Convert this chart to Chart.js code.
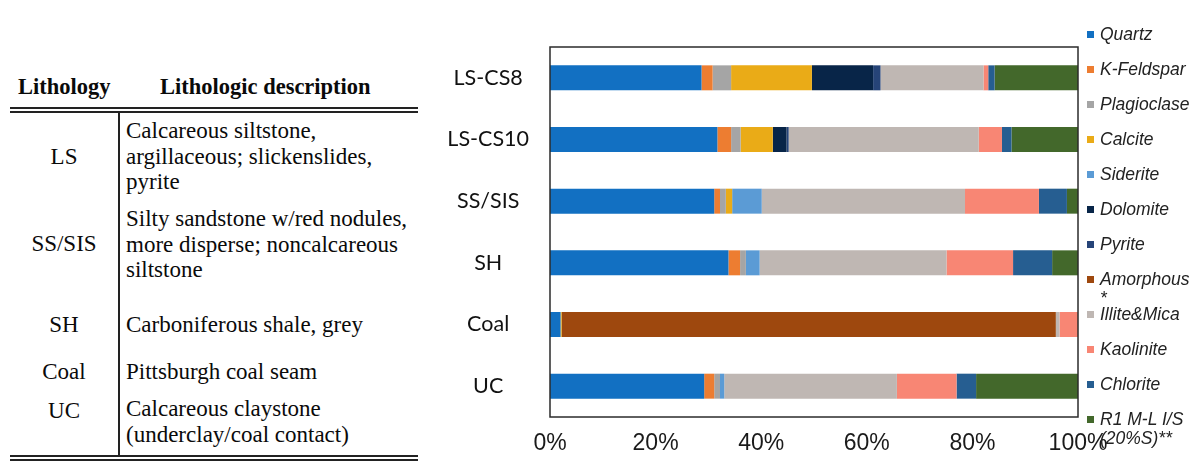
<!DOCTYPE html>
<html>
<head>
<meta charset="utf-8">
<script src="https://cdn.jsdelivr.net/npm/chart.js@4"></script>
<style>
  html, body { margin: 0; padding: 0; background: #fff; }
  body { width: 1195px; height: 462px; position: relative; overflow: hidden; }
  .tab { position: absolute; font-family: "Liberation Serif", "Times New Roman", serif; font-size: 23px; color: #0a0a0a; white-space: nowrap; line-height: 26px; }
  .tab.head { font-weight: bold; font-size: 22.5px; }
  .rule { position: absolute; background: #222; }
  #chartBox { position: absolute; left: 420px; top: 0; width: 775px; height: 462px; }
  .leg { position: absolute; left: 1086px; font-family: "Liberation Sans", Arial, sans-serif; font-style: italic; font-size: 17.5px; color: #222; line-height: 19px; white-space: pre; }
  .leg i { position: absolute; left: 1px; top: 6px; width: 7px; height: 7px; }
  .leg span { position: absolute; left: 14px; top: 0; }
</style>
</head>
<body>

<div id="table"></div>
<div id="chartBox"><canvas id="mineralogia"></canvas></div>
<div id="legenda"></div>

<script>
// Amostras (eixo y)
const amostras = ["LS-CS8", "LS-CS10", "SS/SIS", "SH", "Coal", "UC"];

// Minerais (% em peso), na ordem das amostras
const quartz      = [28.7, 31.7, 31.1, 33.8, 2.0, 29.2];
const kFeldspar   = [2.1, 2.6, 1.1, 2.2, 0, 1.9];
const plagioclase = [3.5, 1.8, 1.1, 1.1, 0, 1.1];
const calcite     = [15.3, 6.1, 1.2, 0, 0.2, 0];
const siderite    = [0, 0, 5.6, 2.6, 0, 0.8];
const dolomite    = [11.6, 2.6, 0, 0, 0, 0];
const pyrite      = [1.4, 0.4, 0, 0, 0, 0];
const amorphous   = [0, 0, 0, 0, 93.6, 0];
const illiteMica  = [19.5, 36.0, 38.5, 35.4, 0.7, 32.7];
const kaolinite   = [0.9, 4.4, 14.0, 12.6, 3.5, 11.3];
const chlorite    = [1.2, 1.8, 5.3, 7.4, 0, 3.7];
const r1MLIS      = [15.8, 12.6, 2.1, 4.9, 0, 19.3];

const nomesMinerais = ["Quartz", "K-Feldspar", "Plagioclase", "Calcite", "Siderite", "Dolomite",
                       "Pyrite", "Amorphous\n*", "Illite&Mica", "Kaolinite", "Chlorite", "R1 M-L I/S\n(20%S)**"];
const valoresMinerais = [quartz, kFeldspar, plagioclase, calcite, siderite, dolomite,
                         pyrite, amorphous, illiteMica, kaolinite, chlorite, r1MLIS];
const cores = ["#1270c2", "#ed7d31", "#a5a5a5", "#eaab17", "#5b9bd5", "#082548",
               "#264478", "#9e480e", "#bfb7b3", "#f88674", "#265e91", "#43682b"];

const ticksX = [0, 20, 40, 60, 80, 100];

// Tabela de litologias
const litologias = ["LS", "SS/SIS", "SH", "Coal", "UC"];
const descricoes = [
    ["Calcareous siltstone,", "argillaceous; slickenslides,", "pyrite"],
    ["Silty sandstone w/red nodules,", "more disperse; noncalcareous", "siltstone"],
    ["Carboniferous shale, grey"],
    ["Pittsburgh coal seam"],
    ["Calcareous claystone", "(underclay/coal contact)"]
];
// linha (y do centro) de cada bloco de texto e do código
const yDescricao = [131, 219, 325, 372, 409];
const yLitologia = [157, 244, 325, 372, 411];

function montarTabela() {
    const el = document.getElementById("table");
    let html = "";
    html += `<div class="tab head" style="left:18px;top:${87 - 13}px">Lithology</div>`;
    html += `<div class="tab head" style="left:160px;top:${87 - 13}px">Lithologic description</div>`;
    html += `<div class="rule" style="left:10px;top:107px;width:408px;height:1.5px"></div>`;
    html += `<div class="rule" style="left:10px;top:111px;width:408px;height:1.5px"></div>`;
    html += `<div class="rule" style="left:118px;top:112px;width:1.5px;height:344px"></div>`;
    html += `<div class="rule" style="left:10px;top:455px;width:408px;height:1.5px"></div>`;
    html += `<div class="rule" style="left:10px;top:459px;width:408px;height:1.5px"></div>`;
    litologias.forEach((lit, i) => {
        html += `<div class="tab" style="left:0;width:128px;text-align:center;top:${yLitologia[i] - 13}px">${lit}</div>`;
        descricoes[i].forEach((linha, j) => {
            html += `<div class="tab" style="left:126px;top:${yDescricao[i] + j * 25.5 - 13}px">${linha}</div>`;
        });
    });
    el.innerHTML = html;
}

function montarLegenda() {
    const el = document.getElementById("legenda");
    let html = "";
    nomesMinerais.forEach((nome, i) => {
        const y = 35 + i * 35;
        html += `<div class="leg" style="top:${y - 10}px"><i style="background:${cores[i]}"></i><span>${nome}</span></div>`;
    });
    el.innerHTML = html;
}

// Contorno da área do gráfico
const moldura = {
    id: "moldura",
    afterDraw(chart) {
        const { ctx, chartArea: a } = chart;
        ctx.save();
        ctx.strokeStyle = "#2b2b2b";
        ctx.lineWidth = 1.5;
        ctx.strokeRect(a.left, a.top, a.right - a.left, a.bottom - a.top);
        ctx.restore();
    }
};

function criarGrafico() {
    const ctx = document.getElementById("mineralogia");
    new Chart(ctx, {
        type: "bar",
        data: {
            labels: amostras,
            datasets: nomesMinerais.map((nome, i) => ({
                label: nome,
                data: valoresMinerais[i],
                backgroundColor: cores[i],
                borderWidth: 0,
                categoryPercentage: 0.5,
                barPercentage: 0.81
            }))
        },
        options: {
            indexAxis: "y",
            responsive: true,
            maintainAspectRatio: false,
            animation: false,
            layout: { padding: { top: 47, right: 117, left: 0, bottom: 0 } },
            plugins: {
                legend: { display: false },
                tooltip: { enabled: false }
            },
            scales: {
                x: {
                    stacked: true,
                    min: 0,
                    max: 100,
                    afterBuildTicks: (s) => { s.ticks = ticksX.map(v => ({ value: v })); },
                    afterFit: (s) => { s.height = 45; },
                    grid: { display: false, drawTicks: false },
                    border: { display: false },
                    ticks: {
                        padding: 13,
                        color: "#1a1a1a",
                        font: { family: "Liberation Sans", size: 23 },
                        maxRotation: 0,
                        callback: (v) => v + "%"
                    }
                },
                y: {
                    stacked: true,
                    afterFit: (s) => { s.width = 130; },
                    grid: { display: false, drawTicks: false },
                    border: { display: false },
                    ticks: {
                        padding: 21,
                        crossAlign: "center",
                        color: "#111",
                        font: { family: "Lato", size: 21.5 }
                    }
                }
            }
        },
        plugins: [moldura]
    });
}

document.addEventListener("DOMContentLoaded", function() {
    montarTabela();
    montarLegenda();
    criarGrafico();
});
</script>
</body>
</html>
